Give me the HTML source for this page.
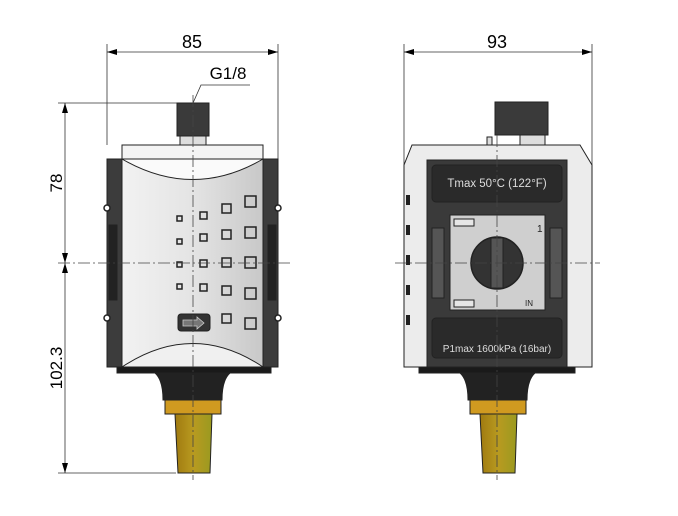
<!DOCTYPE html>
<html><head><meta charset="utf-8"><style>html,body{margin:0;padding:0;background:#fff}svg{display:block}</style></head>
<body>
<svg width="678" height="516" viewBox="0 0 678 516" xmlns="http://www.w3.org/2000/svg" font-family="Liberation Sans, sans-serif">
<defs>
<marker id="a" markerWidth="10" markerHeight="6" refX="10" refY="3" orient="auto-start-reverse" markerUnits="userSpaceOnUse"><path d="M0,0 L10,3 L0,6z" fill="#000"/></marker>
<linearGradient id="face" x1="0" x2="1"><stop offset="0" stop-color="#f2f2f2"/><stop offset="0.5" stop-color="#e4e4e4"/><stop offset="1" stop-color="#c8c8c8"/></linearGradient>
<linearGradient id="brass" x1="0" x2="1"><stop offset="0" stop-color="#a07a10"/><stop offset="0.5" stop-color="#b89a20"/><stop offset="1" stop-color="#9a9a20"/></linearGradient>
</defs>
<g stroke="#333" stroke-width="0.8" fill="none">
<line x1="107" y1="44" x2="107" y2="145"/><line x1="278" y1="44" x2="278" y2="160"/>
<line x1="107" y1="52" x2="278" y2="52" marker-start="url(#a)" marker-end="url(#a)"/>
<line x1="58" y1="103" x2="177" y2="103"/>
<line x1="58" y1="473" x2="176" y2="473"/>
<line x1="65" y1="103" x2="65" y2="263" marker-start="url(#a)" marker-end="url(#a)"/>
<line x1="65" y1="263" x2="65" y2="473" marker-start="url(#a)" marker-end="url(#a)"/>
<polyline points="193,103 201,85 250,85"/>
<line x1="404" y1="44" x2="404" y2="165"/><line x1="592" y1="44" x2="592" y2="165"/>
<line x1="404" y1="52" x2="592" y2="52" marker-start="url(#a)" marker-end="url(#a)"/>
</g>
<text x="192" y="48" font-size="18" text-anchor="middle">85</text>
<text x="497" y="48" font-size="18" text-anchor="middle">93</text>
<text x="228" y="79" font-size="17" text-anchor="middle">G1/8</text>
<text transform="translate(62,183) rotate(-90)" font-size="17" text-anchor="middle">78</text>
<text transform="translate(62,368) rotate(-90)" font-size="17" text-anchor="middle">102.3</text>

<!-- LEFT VIEW -->
<g stroke="#222" stroke-width="1">
<rect x="177" y="103" width="32" height="33" fill="#3a3a3a"/>
<rect x="180" y="136" width="26" height="9" fill="#ddd"/>
<rect x="122" y="145" width="141" height="14" fill="#f4f4f4"/>
<rect x="107" y="159" width="171" height="208" fill="#3c3c3c"/>
<rect x="122" y="159" width="141" height="208" fill="url(#face)"/>
<path d="M122,159 Q193,200 263,159Z" fill="#fafafa"/>
<path d="M122,367 Q193,320 263,367Z" fill="#f0f0f0"/>
<rect x="109" y="225" width="8" height="75" fill="#222"/>
<rect x="268" y="225" width="8" height="75" fill="#222"/>
<rect x="117" y="367" width="154" height="6" fill="#1a1a1a"/>
<path d="M155,373 L230,373 Q222,380 222,400 L163,400 Q163,380 155,373Z" fill="#222"/>
<rect x="165" y="400" width="56" height="14" fill="#d09a20"/>
<path d="M175,414 L212,414 L210,473 L178,473Z" fill="url(#brass)"/>
<rect x="178" y="314" width="32" height="17" rx="3" fill="#333"/>
<path d="M183,320 h14 v-3 l7,6 -7,6 v-3 h-14z" fill="#777" stroke="#ccc" stroke-width="0.8"/>
</g>
<g fill="#fff" stroke="#222" stroke-width="1.5">
<circle cx="107" cy="208" r="3"/><circle cx="278" cy="208" r="3"/><circle cx="107" cy="318" r="3"/><circle cx="278" cy="318" r="3"/>
</g>
<g fill="none" stroke="#222" stroke-width="1.5">
<rect x="177" y="216" width="5" height="5"/><rect x="177" y="239" width="5" height="5"/><rect x="177" y="262" width="5" height="5"/><rect x="177" y="284" width="5" height="5"/>
<rect x="200" y="212" width="7" height="7"/><rect x="200" y="234" width="7" height="7"/><rect x="200" y="260" width="7" height="7"/><rect x="200" y="284" width="7" height="7"/>
<rect x="222" y="204" width="9" height="9"/><rect x="222" y="230" width="9" height="9"/><rect x="222" y="258" width="9" height="9"/><rect x="222" y="286" width="9" height="9"/><rect x="222" y="314" width="9" height="9"/>
<rect x="245" y="196" width="11" height="11"/><rect x="245" y="227" width="11" height="11"/><rect x="245" y="257" width="11" height="11"/><rect x="245" y="288" width="11" height="11"/><rect x="245" y="318" width="11" height="11"/>
</g>

<!-- RIGHT VIEW -->
<g stroke="#222" stroke-width="1">
<rect x="495" y="102" width="53" height="33" fill="#3a3a3a"/>
<rect x="520" y="135" width="25" height="10" fill="#ddd"/>
<rect x="487" y="137" width="5" height="8" fill="#ddd"/>
<path d="M412,145 L580,145 L592,165 L592,367 L404,367 L404,165Z" fill="#ececec"/>
<rect x="427" y="160" width="140" height="207" fill="#3a3a3a"/>
<rect x="432" y="165" width="130" height="37" rx="4" fill="#2a2a2a"/>
<rect x="432" y="318" width="130" height="40" rx="4" fill="#2a2a2a"/>
<rect x="432" y="228" width="12" height="70" fill="#555"/>
<rect x="550" y="228" width="12" height="70" fill="#555"/>
<rect x="450" y="215" width="95" height="95" fill="#cfcfcf"/>
<rect x="454" y="219" width="20" height="7" fill="#e6e6e6"/>
<rect x="454" y="300" width="20" height="7" fill="#e6e6e6"/>
<circle cx="497" cy="263" r="26" fill="#333" stroke-width="1.5"/>
<rect x="491" y="238" width="12" height="50" fill="#555"/>
<rect x="419" y="367" width="156" height="6" fill="#1a1a1a"/>
<path d="M460,373 L535,373 Q527,380 527,400 L468,400 Q468,380 460,373Z" fill="#222"/>
<rect x="470" y="400" width="56" height="14" fill="#d09a20"/>
<path d="M480,414 L517,414 L515,473 L483,473Z" fill="url(#brass)"/>
</g>
<text x="497" y="187" font-size="11.5" fill="#ddd" text-anchor="middle">Tmax 50°C (122°F)</text>
<text x="497" y="352" font-size="10" fill="#ddd" text-anchor="middle">P1max 1600kPa (16bar)</text>
<text x="537" y="232" font-size="10" fill="#222">1</text>
<text x="525" y="306" font-size="8" fill="#222">IN</text>
<g fill="#222"><rect x="406" y="195" width="4" height="10"/><rect x="406" y="225" width="4" height="10"/><rect x="406" y="255" width="4" height="10"/><rect x="406" y="285" width="4" height="10"/><rect x="406" y="315" width="4" height="10"/></g>

<g stroke="#444" stroke-width="0.8" stroke-dasharray="12,3,2,3" fill="none">
<line x1="58" y1="263" x2="290" y2="263"/>
<line x1="193" y1="95" x2="193" y2="480"/>
<line x1="395" y1="263" x2="600" y2="263"/>
<line x1="497" y1="135" x2="497" y2="480"/>
</g>
</svg>
</body></html>
